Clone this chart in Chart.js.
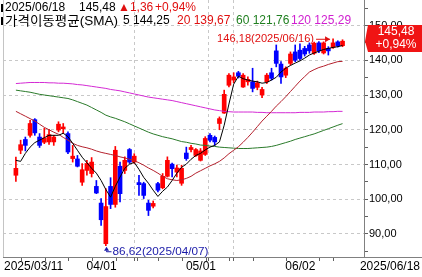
<!DOCTYPE html>
<html>
<head>
<meta charset="utf-8">
<script src="https://cdn.jsdelivr.net/npm/chart.js@4.4.1/dist/chart.umd.min.js"></script>
<style>
  html, body { margin: 0; padding: 0; background: #fff; overflow: hidden; }
  canvas { display: block; }
</style>
</head>
<body>
<canvas id="chart" width="422" height="277"></canvas>
<script>
// daily candles 2025/03/11 ~ 2025/06/18
const year = '2025';
const dates = [
  '03/11','03/12','03/13','03/14','03/17','03/18','03/19','03/20','03/21','03/24',
  '03/25','03/26','03/27','03/28','03/31','04/01','04/02','04/03','04/04','04/07',
  '04/08','04/09','04/10','04/11','04/14','04/15','04/16','04/17','04/21','04/22',
  '04/23','04/24','04/25','04/28','04/29','04/30','05/01','05/02','05/05','05/06',
  '05/07','05/08','05/09','05/12','05/13','05/14','05/15','05/16','05/19','05/20',
  '05/21','05/22','05/23','05/27','05/28','05/29','05/30','06/02','06/03','06/04',
  '06/05','06/06','06/09','06/10','06/11','06/12','06/13','06/16','06/17','06/18'
];
const opens = [
  106.9, 114.1, 117.2, 118.4, 122.9, 117.9, 116.4, 116.5, 116.5, 119.9,
  120.3, 118.9, 111.7, 111.6, 104.9, 108.3, 107.4, 103.7, 98.9, 87.2,
  103.7, 98.5, 109.5, 108.3, 114.3, 110.7, 104.8, 104.5, 98.9, 98.0,
  104.5, 103.3, 106.6, 110.1, 107.8, 104.6, 113.3, 114.3, 112.6, 111.2,
  112.9, 118.4, 117.8, 121.8, 124.8, 132.8, 134.3, 136.4, 132.3, 133.8,
  133.8, 132.2, 130.0, 133.8, 136.4, 142.7, 138.9, 135.7, 139.1, 142.4,
  142.9, 143.4, 144.4, 142.0, 145.0, 142.1, 143.4, 143.7, 145.3, 144.2
];
const highs = [
  112.1, 117.0, 117.9, 122.7, 123.2, 118.9, 120.4, 120.1, 118.4, 122.3,
  121.8, 119.4, 115.5, 112.6, 110.3, 111.2, 112.0, 105.4, 100.2, 103.1,
  106.2, 115.2, 110.7, 112.2, 114.6, 113.1, 106.9, 104.9, 99.7, 99.5,
  104.9, 107.4, 112.2, 110.4, 109.8, 109.8, 115.0, 115.5, 114.6, 114.6,
  118.0, 118.9, 118.2, 123.7, 131.4, 136.2, 136.4, 136.8, 136.2, 135.2,
  137.7, 134.0, 132.2, 136.2, 137.7, 144.4, 139.6, 138.1, 142.4, 144.4,
  144.7, 144.0, 145.0, 145.2, 145.4, 145.3, 143.9, 146.18, 145.6, 145.9
];
const lows = [
  105.1, 113.1, 113.9, 117.9, 118.4, 114.9, 116.0, 115.8, 115.5, 119.4,
  118.9, 113.1, 110.7, 109.3, 104.0, 106.9, 106.4, 101.6, 92.5, 86.62,
  97.3, 97.7, 99.2, 107.4, 110.3, 110.3, 101.1, 100.2, 95.3, 97.5,
  102.1, 103.0, 106.4, 106.4, 106.4, 104.0, 111.2, 113.6, 112.3, 111.0,
  112.6, 116.5, 115.5, 120.0, 124.7, 132.3, 133.5, 134.9, 132.2, 132.8,
  130.9, 131.5, 129.2, 133.3, 134.3, 138.1, 133.3, 135.0, 138.6, 139.6,
  140.0, 141.2, 142.0, 141.7, 142.2, 141.8, 141.5, 143.4, 143.8, 143.9
];
const closes = [
  108.9, 115.7, 115.5, 121.8, 119.1, 115.5, 117.6, 118.6, 117.9, 121.6,
  120.8, 113.6, 112.4, 109.5, 108.5, 110.3, 110.7, 101.8, 94.1, 97.9,
  98.5, 114.1, 101.6, 111.2, 110.7, 112.4, 104.2, 101.1, 96.8, 98.8,
  102.6, 106.6, 111.2, 108.8, 109.0, 108.9, 111.7, 114.9, 114.3, 113.9,
  117.5, 117.0, 116.5, 123.2, 130.2, 135.7, 135.2, 135.4, 135.7, 134.5,
  131.9, 133.5, 131.6, 135.7, 134.8, 139.1, 135.2, 137.7, 141.8, 140.0,
  140.5, 141.8, 142.7, 144.9, 142.7, 145.0, 142.7, 145.0, 144.12, 145.48
];
// moving averages
const ma5 = [
  111.2, 110.9, 113.2, 115.0, 116.3, 117.0, 117.7, 118.4, 118.4, 118.4,
  119.0, 118.0, 116.1, 114.1, 112.1, 110.5, 108.9, 107.5, 105.4, 102.8,
  100.6, 103.7, 106.4, 108.9, 110.1, 110.6, 108.6, 106.3, 104.6, 102.6,
  100.8, 102.3, 103.5, 105.4, 107.5, 109.2, 110.1, 111.5, 112.6, 113.2,
  114.2, 115.0, 115.5, 116.5, 121.3, 127.4, 133.1, 135.4, 134.7, 134.3,
  134.0, 133.8, 133.4, 133.6, 134.3, 135.1, 136.6, 137.7, 138.5, 139.2,
  139.8, 140.6, 141.5, 142.1, 142.6, 143.1, 143.4, 143.7, 143.9, 144.25
];
const ma20 = [
  125.3, 124.6, 123.9, 123.2, 122.5, 121.6, 120.7, 120.0, 119.3, 118.7,
  117.8, 117.0, 116.1, 115.5, 115.1, 114.8, 114.4, 113.9, 113.5, 113.2,
  112.9, 112.6, 112.2, 111.9, 111.5, 111.1, 110.5, 109.8, 109.0, 108.3,
  107.5, 106.6, 105.9, 105.6, 105.4, 105.6, 106.0, 106.6, 107.5, 108.2,
  108.9, 109.6, 110.2, 110.9, 111.9, 113.1, 114.1, 115.1, 116.4, 117.8,
  119.3, 120.9, 122.5, 123.9, 125.3, 126.8, 128.1, 129.5, 131.0, 132.5,
  134.0, 135.3, 136.6, 137.3, 137.9, 138.3, 138.8, 139.2, 139.6, 139.67
];
const ma60 = [
  131.4, 131.2, 131.0, 130.8, 130.5, 130.2, 130.0, 129.8, 129.6, 129.4,
  129.2, 129.0, 128.6, 128.1, 127.6, 127.1, 126.4, 125.7, 125.0, 124.2,
  123.7, 123.3, 122.8, 122.3, 121.7, 121.1, 120.5, 119.9, 119.3, 118.8,
  118.4, 118.0, 117.7, 117.4, 117.0, 116.6, 116.4, 116.1, 115.9, 115.6,
  115.5, 115.3, 115.2, 115.0, 114.9, 114.8, 114.7, 114.6, 114.6, 114.6,
  114.7, 114.8, 114.9, 115.0, 115.2, 115.5, 115.9, 116.3, 116.7, 117.2,
  117.6, 118.0, 118.4, 118.8, 119.3, 119.8, 120.3, 120.8, 121.3, 121.76
];
const ma120 = [
  133.3, 133.4, 133.5, 133.6, 133.6, 133.6, 133.6, 133.5, 133.5, 133.4,
  133.4, 133.3, 133.2, 133.0, 132.9, 132.7, 132.5, 132.3, 132.1, 131.9,
  131.6, 131.4, 131.2, 130.9, 130.6, 130.3, 130.0, 129.7, 129.4, 129.2,
  129.0, 128.8, 128.6, 128.4, 128.1, 127.8, 127.5, 127.2, 126.9, 126.6,
  126.3, 126.0, 125.7, 125.5, 125.3, 125.2, 125.1, 125.1, 125.1, 125.1,
  125.1, 125.0, 125.0, 124.9, 124.9, 124.9, 124.9, 124.9, 124.9, 124.9,
  125.0, 125.0, 125.0, 125.1, 125.1, 125.1, 125.2, 125.2, 125.3, 125.29
];
const maPeriods = [5, 20, 60, 120];
const yTickValues = [85, 90, 95, 100, 105, 110, 115, 120, 125, 130, 135, 140, 145, 150, 155];
const monthLabels = ['04/01', '05/01', '06/02'];
const weekStarts = ['03/17','03/24','03/31','04/07','04/14','04/21','04/28','05/05','05/12','05/19','05/27','06/09','06/16'];

const UP = '#ff0000';
const DOWN = '#0000ff';
const MA_COLORS = ['#000000', '#b4202c', '#2a7a2a', '#d42ad4'];
const LEGEND_COLORS = ['#000000', '#e01010', '#1f7f1f', '#d020d0'];
const FONT = '"Liberation Sans", "Noto Sans CJK KR", sans-serif';

const fmt = v => v.toFixed(2).replace('.', ',');
const candleColor = ctx => closes[ctx.dataIndex] >= opens[ctx.dataIndex] ? UP : DOWN;

const monthTicks = monthLabels.map(d => dates.indexOf(d) - 0.5);
const weekTicks = weekStarts.map(d => dates.indexOf(d) - 0.3);

// draw text stretched/squeezed to a given width
function fitText(ctx, text, x, y, width) {
  const w = ctx.measureText(text).width;
  ctx.save();
  ctx.translate(x, y);
  ctx.scale(width / w, 1);
  ctx.fillText(text, 0, 0);
  ctx.restore();
}

const lineSet = (data, color) => ({
  type: 'line',
  data: data.map((v, i) => ({ x: i, y: v })),
  borderColor: color,
  borderWidth: 1,
  pointRadius: 0,
  tension: 0,
  order: 0
});

const overlay = {
  id: 'overlay',
  afterDraw(chart) {
    const { ctx, chartArea: a, scales: { x, y } } = chart;
    const n = closes.length;
    ctx.save();

    // frame bits
    ctx.lineWidth = 1;
    ctx.strokeStyle = '#c4c4c4';
    ctx.beginPath();
    ctx.moveTo(a.left + 0.5, a.top);
    ctx.lineTo(a.left + 0.5, a.bottom);
    ctx.stroke();
    ctx.strokeStyle = '#808080';
    ctx.beginPath();
    ctx.moveTo(a.right, a.bottom + 0.5);
    ctx.lineTo(chart.width, a.bottom + 0.5);
    ctx.stroke();

    // x labels
    ctx.font = '12px ' + FONT;
    ctx.fillStyle = '#000';
    ctx.textBaseline = 'middle';
    ctx.textAlign = 'left';
    ctx.fillText(year + '/' + dates[0], a.left + 1, a.bottom + 10);
    monthLabels.forEach(d => {
      ctx.fillText(d, x.getPixelForValue(dates.indexOf(d) - 0.5) + 2, a.bottom + 10);
    });
    ctx.textAlign = 'right';
    ctx.fillText(year + '/' + dates[n - 1], chart.width - 2, a.bottom + 10);

    // header
    const last = closes[n - 1];
    const chg = last - closes[n - 2];
    const pct = chg / closes[n - 2] * 100;
    ctx.textAlign = 'left';
    ctx.fillStyle = '#000';
    ctx.fillRect(1, 4, 2, 8);
    ctx.fillRect(1, 17, 2, 8);
    ctx.fillText(year + '/' + dates[n - 1], 5, 8);
    ctx.fillText(fmt(last), 79, 8);
    ctx.fillStyle = LEGEND_COLORS[1];
    ctx.fillText('\u25B2' + fmt(chg), 118, 8);
    ctx.fillText('+' + fmt(pct) + '%', 155, 8);
    ctx.fillStyle = '#000';
    ctx.font = '13px ' + FONT;
    fitText(ctx, '가격이동평균(SMA)', 5, 21, 113);
    ctx.font = '12px ' + FONT;
    const maLast = [ma5, ma20, ma60, ma120].map(s => s[s.length - 1]);
    const legendX = [123, 177, 236, 291];
    maPeriods.forEach((p, k) => {
      ctx.fillStyle = LEGEND_COLORS[k];
      ctx.fillText(p + ' ' + fmt(maLast[k]), legendX[k], 21);
    });

    // high / low marks
    ctx.font = '11px ' + FONT;
    const hi = highs.indexOf(Math.max(...highs));
    const lo = lows.indexOf(Math.min(...lows));
    const hx = x.getPixelForValue(hi) - 3;
    const hy = y.getPixelForValue(highs[hi]);
    ctx.strokeStyle = LEGEND_COLORS[1];
    ctx.fillStyle = LEGEND_COLORS[1];
    ctx.beginPath();
    ctx.moveTo(hx - 14, hy + 0.5);
    ctx.lineTo(hx, hy + 0.5);
    ctx.stroke();
    ctx.beginPath();
    ctx.moveTo(hx, hy + 0.5);
    ctx.lineTo(hx - 5, hy - 2.5);
    ctx.lineTo(hx - 5, hy + 3.5);
    ctx.closePath();
    ctx.fill();
    fitText(ctx, fmt(highs[hi]) + '(' + year + '/' + dates[hi] + ')', hx - 113, hy, 97);

    const lx = Math.round(x.getPixelForValue(lo)) + 0.5;
    const ly = y.getPixelForValue(lows[lo]) + 1;
    const ty = ly + 5;
    ctx.strokeStyle = '#1a1aa8';
    ctx.fillStyle = '#1a1aa8';
    ctx.beginPath();
    ctx.moveTo(lx, ly);
    ctx.lineTo(lx - 2.5, ly + 4);
    ctx.lineTo(lx + 2.5, ly + 4);
    ctx.closePath();
    ctx.fill();
    ctx.beginPath();
    ctx.moveTo(lx, ly + 4);
    ctx.lineTo(lx, ty);
    ctx.lineTo(lx + 5, ty);
    ctx.stroke();
    fitText(ctx, fmt(lows[lo]) + '(' + year + '/' + dates[lo] + ')', lx + 6, ty, 96);

    // last price box
    const cy = y.getPixelForValue(last);
    ctx.fillStyle = '#f01414';
    ctx.beginPath();
    ctx.moveTo(a.right + 1, cy);
    ctx.lineTo(a.right + 4, 25);
    ctx.lineTo(chart.width, 25);
    ctx.lineTo(chart.width, 52);
    ctx.lineTo(a.right + 4, 52);
    ctx.closePath();
    ctx.fill();
    ctx.fillStyle = '#fff';
    ctx.font = '12px ' + FONT;
    ctx.textAlign = 'center';
    ctx.fillText(fmt(last), 396, 32);
    ctx.fillText('+' + fmt(pct) + '%', 396, 45);

    ctx.restore();
  }
};

new Chart(document.getElementById('chart'), {
  type: 'bar',
  data: {
    datasets: [
      lineSet(ma5, MA_COLORS[0]),
      lineSet(ma20, MA_COLORS[1]),
      lineSet(ma60, MA_COLORS[2]),
      lineSet(ma120, MA_COLORS[3]),
      {
        type: 'bar',
        data: opens.map((o, i) => ({ x: i, y: [o, closes[i]] })),
        backgroundColor: candleColor,
        barThickness: 4,
        minBarLength: 1,
        grouped: false,
        order: 2
      },
      {
        type: 'bar',
        data: lows.map((l, i) => ({ x: i, y: [l, highs[i]] })),
        backgroundColor: candleColor,
        barThickness: 1,
        grouped: false,
        order: 3
      }
    ]
  },
  options: {
    responsive: false,
    animation: false,
    devicePixelRatio: 1,
    layout: { padding: { left: 3, top: 0, right: 0, bottom: 0 } },
    plugins: { legend: { display: false }, tooltip: { enabled: false } },
    scales: {
      x: {
        type: 'linear',
        position: 'bottom',
        min: -0.34,
        max: 71.15,
        afterBuildTicks: s => { s.ticks = [...weekTicks, ...monthTicks].map(v => ({ value: v })); },
        afterFit: s => { s.height = 20; s.paddingLeft = 0; s.paddingRight = 0; },
        ticks: { display: false },
        grid: {
          color: c => c.tick && monthTicks.includes(c.tick.value) ? '#c8c8c8' : 'rgba(0,0,0,0)',
          tickColor: '#606060',
          tickLength: 4
        },
        border: { color: '#808080', dash: [3, 3] }
      },
      y: {
        type: 'linear',
        position: 'right',
        min: 83.38,
        max: 157.34,
        afterBuildTicks: s => { s.ticks = yTickValues.map(v => ({ value: v })); },
        afterFit: s => { s.width = 58; s.paddingTop = 0; s.paddingBottom = 0; },
        ticks: {
          callback: v => v % 10 === 0 ? fmt(v) : '',
          color: '#000',
          font: { family: FONT, size: 11 },
          padding: 1
        },
        grid: {
          color: c => c.tick && c.tick.value % 10 === 0 ? '#c8c8c8' : 'rgba(0,0,0,0)',
          tickColor: '#606060',
          tickLength: 4
        },
        border: { color: '#808080', dash: [3, 3] }
      }
    }
  },
  plugins: [overlay]
});
</script>
</body>
</html>
